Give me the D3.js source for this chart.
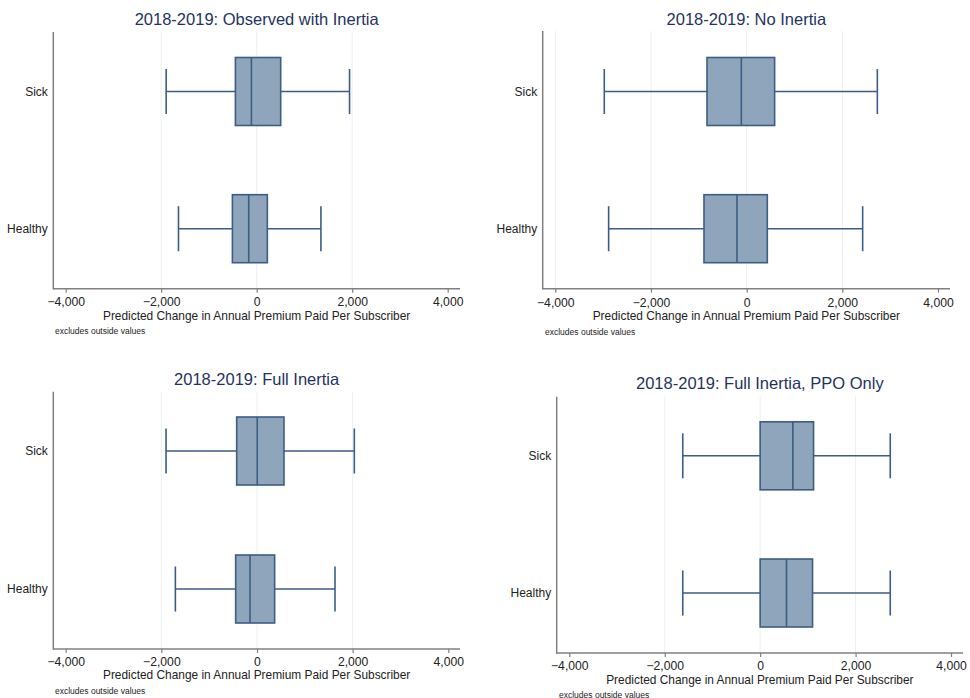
<!DOCTYPE html>
<html>
<head>
<meta charset="utf-8">
<script src="https://cdn.jsdelivr.net/npm/d3@7"></script>
<style>
  html, body { margin: 0; padding: 0; background: #ffffff; }
  svg { display: block; font-family: "Liberation Sans", Arial, Helvetica, sans-serif; }
</style>
</head>
<body>
<svg id="chart" width="970" height="698"></svg>
<script>
// Predicted change in annual premium paid per subscriber, 2018-2019 scenarios
const categories = ["Sick", "Healthy"];
const panelTitles = [
  "2018-2019: Observed with Inertia",
  "2018-2019: No Inertia",
  "2018-2019: Full Inertia",
  "2018-2019: Full Inertia, PPO Only"
];
// Box statistics per panel, ordered [Sick, Healthy]
const whiskerLow  = [[-1896, -1638], [-2976, -2885], [-1902, -1707], [-1622, -1622]];
const quartile1   = [[-446, -509],   [-829, -892],   [-425, -446],   [0, 0]];
const medians     = [[-111, -167],   [-111, -202],   [5, -146],      [685, 552]];
const quartile3   = [[502, 223],     [585, 432],     [564, 369],     [1119, 1098]];
const whiskerHigh = [[1944, 1345],   [2732, 2425],   [2035, 1631],   [2727, 2727]];
const xTicks = [-4000, -2000, 0, 2000, 4000];
const gridValues = [[-2000, 0, 2000], [-4000, -2000, 0, 2000], [-2000, 0, 2000], [-2000, 0, 2000]];
const xAxisTitle = "Predicted Change in Annual Premium Paid Per Subscriber";
const noteText = "excludes outside values";

// Panel geometry
const layout = [
  { axisX: 53.3,  left: 65.7,  right: 447.7, end: 460, top: 32,    bottom: 288.7, ySick: 91.5,  yHealthy: 228.7, titleY: 24.5,  tickY: 306.3, labelY: 319.8, noteY: 334,   noteX: 55 },
  { axisX: 542.7, left: 555.3, right: 938,   end: 950, top: 31,    bottom: 288.7, ySick: 91.5,  yHealthy: 228.7, titleY: 24.5,  tickY: 306.6, labelY: 320,   noteY: 334.5, noteX: 545 },
  { axisX: 53.3,  left: 65.7,  right: 448.3, end: 460, top: 391.7, bottom: 649,   ySick: 451,   yHealthy: 589,   titleY: 384.5, tickY: 665.5, labelY: 679,   noteY: 694,   noteX: 55 },
  { axisX: 556.7, left: 569.3, right: 951,   end: 963, top: 396.7, bottom: 653,   ySick: 455.8, yHealthy: 593,   titleY: 388.5, tickY: 670,   labelY: 684,   noteY: 697.5, noteX: 559 }
];

const boxFill = "#8fa5bc";
const boxStroke = "#3c5d84";
const axisColor = "#808080";
const gridColor = "#e9f0f3";
const titleColor = "#1f3361";

const svg = d3.select("#chart");

panelTitles.forEach((title, p) => {
  const L = layout[p];
  const g = svg.append("g");

  const x = d3.scaleLinear().domain([xTicks[0], xTicks[xTicks.length - 1]]).range([L.left, L.right]);
  const y = d3.scalePoint().domain(categories).range([L.ySick, L.yHealthy]);
  const boxH = 68, capH = 45;

  // vertical grid lines
  g.selectAll("line.grid").data(gridValues[p]).join("line")
    .attr("class", "grid")
    .attr("x1", d => x(d)).attr("x2", d => x(d))
    .attr("y1", L.top).attr("y2", L.bottom)
    .attr("stroke", gridColor).attr("stroke-width", 1);

  // x axis
  const xAxis = d3.axisBottom(x).tickValues(xTicks).tickFormat(d3.format(",")).tickSize(4).tickSizeOuter(0);
  const ax = g.append("g").attr("transform", `translate(0,${L.bottom})`).call(xAxis);
  ax.select(".domain").remove();
  ax.selectAll(".tick line").attr("stroke", axisColor).attr("stroke-width", 1.2);
  ax.selectAll(".tick text")
    .attr("dy", null)
    .attr("y", L.tickY - L.bottom)
    .attr("font-size", 12.2).attr("fill", "#222")
    .attr("font-family", "Liberation Sans, Arial, sans-serif");
  g.append("line")
    .attr("x1", L.axisX).attr("x2", L.end)
    .attr("y1", L.bottom).attr("y2", L.bottom)
    .attr("stroke", axisColor).attr("stroke-width", 1.5);

  // y axis
  g.append("line")
    .attr("x1", L.axisX).attr("x2", L.axisX)
    .attr("y1", L.top).attr("y2", L.bottom + 0.7)
    .attr("stroke", axisColor).attr("stroke-width", 1.5);
  g.selectAll("text.ylab").data(categories).join("text")
    .attr("class", "ylab")
    .attr("x", L.axisX - 5.5).attr("y", d => y(d) + 4.3)
    .attr("text-anchor", "end").attr("font-size", 12).attr("fill", "#222")
    .text(d => d);

  const rows = categories.map((c, i) => ({
    cat: c,
    lo: whiskerLow[p][i], q1: quartile1[p][i], med: medians[p][i],
    q3: quartile3[p][i], hi: whiskerHigh[p][i]
  }));

  const box = g.selectAll("g.box").data(rows).join("g").attr("class", "box");
  // whiskers
  box.append("line")
    .attr("x1", d => x(d.lo)).attr("x2", d => x(d.q1))
    .attr("y1", d => y(d.cat)).attr("y2", d => y(d.cat))
    .attr("stroke", boxStroke).attr("stroke-width", 1.4);
  box.append("line")
    .attr("x1", d => x(d.q3)).attr("x2", d => x(d.hi))
    .attr("y1", d => y(d.cat)).attr("y2", d => y(d.cat))
    .attr("stroke", boxStroke).attr("stroke-width", 1.4);
  // caps
  box.append("line")
    .attr("x1", d => x(d.lo)).attr("x2", d => x(d.lo))
    .attr("y1", d => y(d.cat) - capH / 2).attr("y2", d => y(d.cat) + capH / 2)
    .attr("stroke", boxStroke).attr("stroke-width", 1.6);
  box.append("line")
    .attr("x1", d => x(d.hi)).attr("x2", d => x(d.hi))
    .attr("y1", d => y(d.cat) - capH / 2).attr("y2", d => y(d.cat) + capH / 2)
    .attr("stroke", boxStroke).attr("stroke-width", 1.6);
  // interquartile box
  box.append("rect")
    .attr("x", d => x(d.q1)).attr("width", d => x(d.q3) - x(d.q1))
    .attr("y", d => y(d.cat) - boxH / 2).attr("height", boxH)
    .attr("fill", boxFill).attr("stroke", boxStroke).attr("stroke-width", 1.6);
  // median
  box.append("line")
    .attr("x1", d => x(d.med)).attr("x2", d => x(d.med))
    .attr("y1", d => y(d.cat) - boxH / 2).attr("y2", d => y(d.cat) + boxH / 2)
    .attr("stroke", boxStroke).attr("stroke-width", 1.6);

  // titles and notes
  g.append("text")
    .attr("x", (L.axisX + L.end) / 2).attr("y", L.titleY)
    .attr("text-anchor", "middle").attr("font-size", 16.5).attr("fill", titleColor)
    .text(title);
  g.append("text")
    .attr("x", (L.axisX + L.end) / 2).attr("y", L.labelY)
    .attr("text-anchor", "middle").attr("font-size", 11.9).attr("fill", "#222")
    .text(xAxisTitle);
  g.append("text")
    .attr("x", L.noteX).attr("y", L.noteY)
    .attr("font-size", 8.5).attr("fill", "#222")
    .text(noteText);
});
</script>
</body>
</html>
